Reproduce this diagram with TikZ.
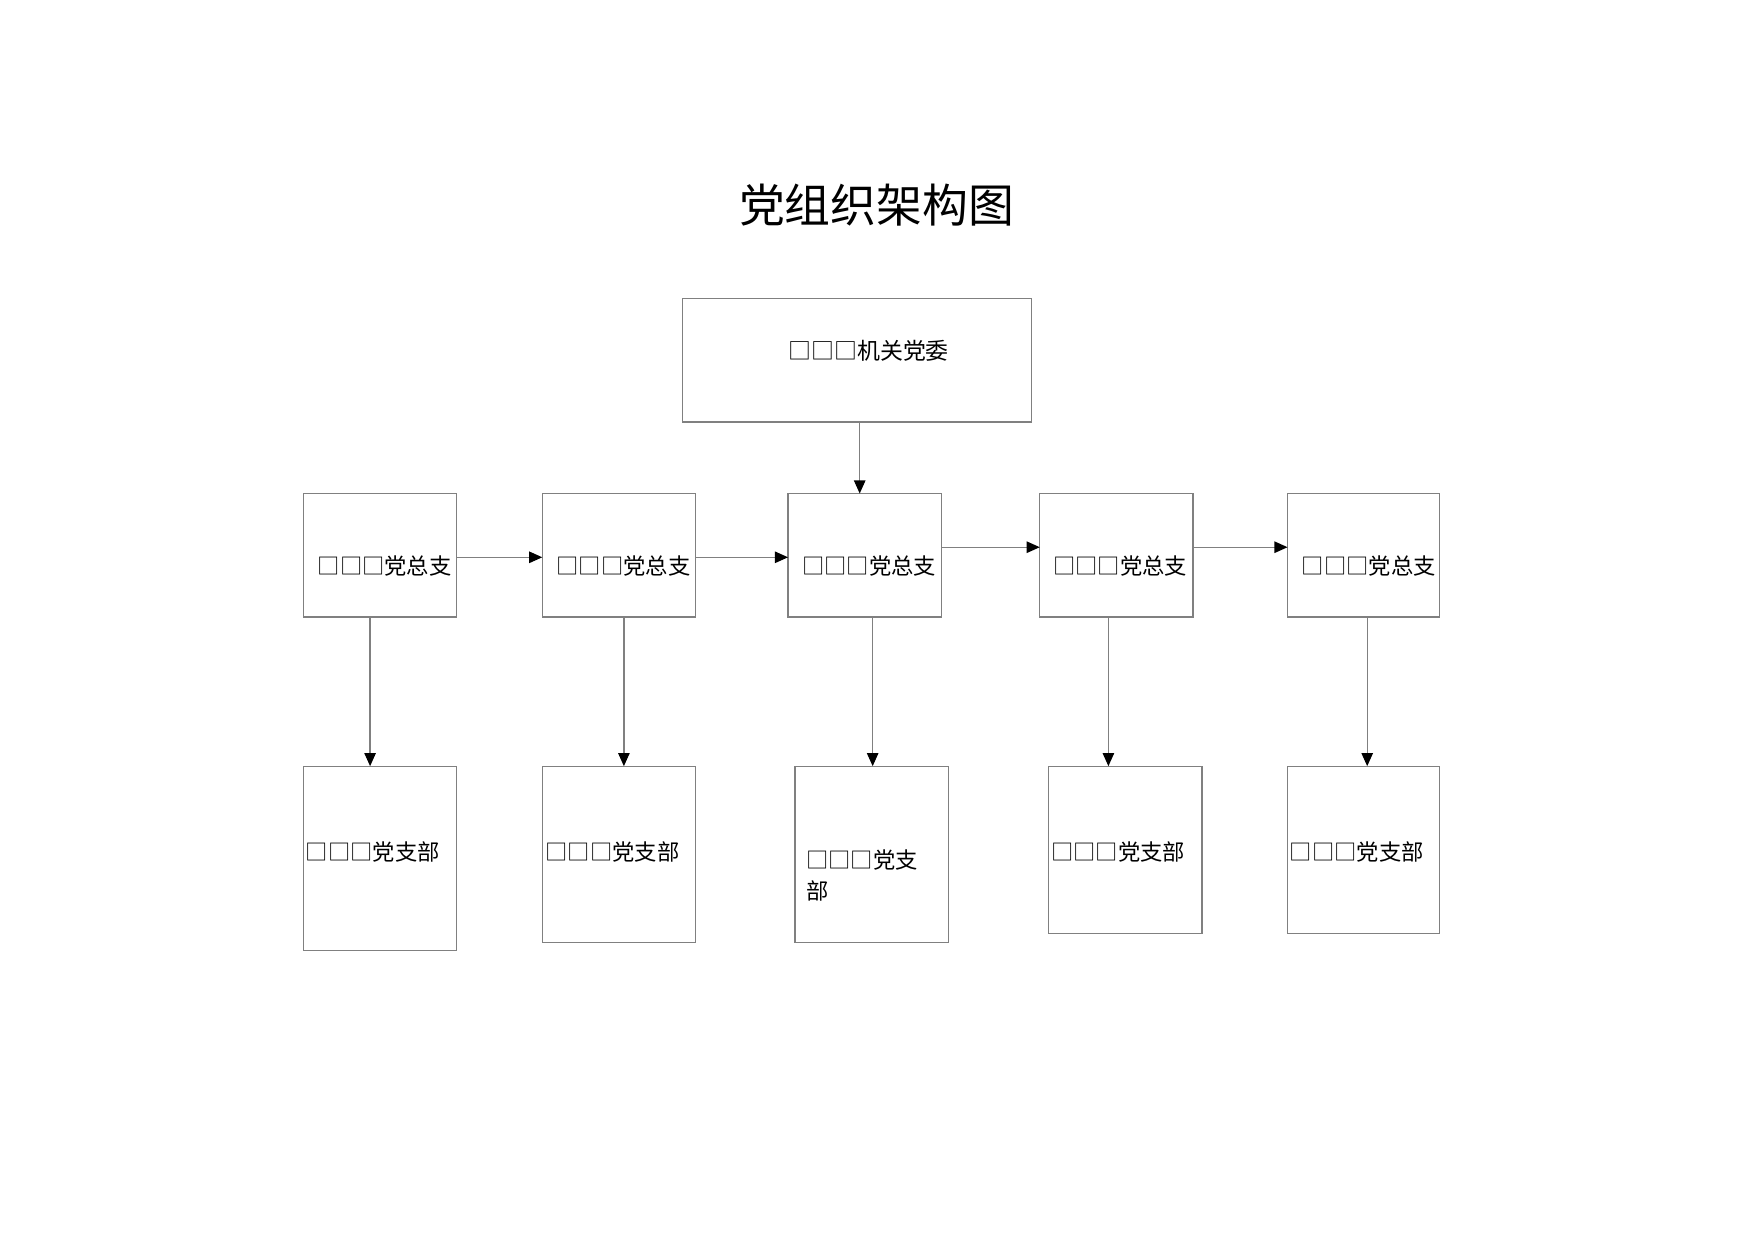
\documentclass[tikz,border=0pt]{standalone}
\usepackage{fontspec}
\setmainfont{Noto Sans CJK SC}
\usetikzlibrary{arrows.meta}
\definecolor{linegray}{RGB}{128,128,128}
\newcommand{\bx}[5]{\node[box, minimum width=#4*0.4776pt, minimum height=#5*0.4776pt] (#1) at (#2,#3) {};}
\begin{document}
\begin{tikzpicture}[x=0.4776pt,y=-0.4776pt,
  box/.style={draw=linegray, line width=0.6pt, anchor=north west, inner sep=0pt, outer sep=0pt},
  lbl/.style={anchor=west, inner sep=0pt, font=\fontsize{10.7pt}{14.9pt}\selectfont},
  arr/.style={draw=linegray, line width=0.6pt, -{Triangle[length=6.3pt,width=5.5pt,color=black]}}]
\useasboundingbox[fill=white] (0,0) rectangle (1762.8,1246.2);

% title
\node[inner sep=0pt, font=\fontsize{22pt}{26pt}\selectfont] (title) at (881,206) {党组织架构图};

% boxes
\bx{top}{686}{300}{351}{124}
\bx{b1}{305}{496}{154}{124}
\bx{b2}{545}{496}{154}{124}
\bx{b3}{792}{496}{154}{124}
\bx{b4}{1045}{496}{154}{124}
\bx{b5}{1294}{496}{153}{124}
\bx{c1}{305}{770}{154}{185}
\bx{c2}{545}{770}{154}{177}
\bx{c3}{799}{770}{154}{177}
\bx{c4}{1054}{770}{154}{168}
\bx{c5}{1294}{770}{153}{168}

% labels
\node[lbl, font=\fontsize{11pt}{14pt}\selectfont] (topt) at (792,353) {□□□机关党委};
\node[lbl] (b1t) at (319,569) {□□□党总支};
\node[lbl] (b2t) at (559,569) {□□□党总支};
\node[lbl] (b3t) at (806,569) {□□□党总支};
\node[lbl] (b4t) at (1058,569) {□□□党总支};
\node[lbl] (b5t) at (1308,569) {□□□党总支};
\node[lbl] (c1t) at (307,856) {□□□党支部};
\node[lbl] (c2t) at (548,856) {□□□党支部};
\node[lbl, align=left] (c3t) at (810,880) {□□□党支\\部};
\node[lbl] (c4t) at (1056,856) {□□□党支部};
\node[lbl] (c5t) at (1296,856) {□□□党支部};

% connectors
\draw[arr] ([xshift=1.2pt]top.south) -- ([xshift=1.2pt]top.south |- b3.north);
\draw[arr] ([yshift=-1pt]b1.east) -- ([yshift=-1pt]b2.west);
\draw[arr] ([yshift=-1pt]b2.east) -- ([yshift=-1pt]b3.west);
\draw[arr] ([yshift=3.84pt]b3.east) -- ([yshift=3.84pt]b4.west);
\draw[arr] ([yshift=3.84pt]b4.east) -- ([yshift=3.84pt]b5.west);
\draw[arr] ([xshift=-4.8pt]b1.south) -- ([xshift=-4.8pt]b1.south |- c1.north);
\draw[arr] ([xshift=2.4pt]b2.south) -- ([xshift=2.4pt]b2.south |- c2.north);
\draw[arr] ([xshift=3.84pt]b3.south) -- ([xshift=3.84pt]b3.south |- c3.north);
\draw[arr] ([xshift=-3.84pt]b4.south) -- ([xshift=-3.84pt]b4.south |- c4.north);
\draw[arr] ([xshift=1.7pt]b5.south) -- ([xshift=1.7pt]b5.south |- c5.north);
\end{tikzpicture}
\end{document}
